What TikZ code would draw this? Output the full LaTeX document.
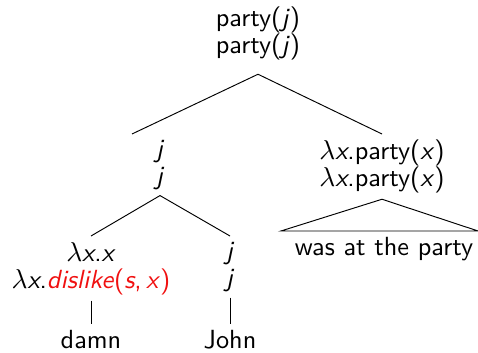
\documentclass[tikz,border=0pt]{standalone}
\usepackage{xcolor}
\usepackage{tikz}
\definecolor{semRed}{HTML}{F01010}
\newcommand{\mv}[1]{\textit{#1}}
\newcommand{\lx}{$\lambda$\mv{x}.}
\tikzset{
  sem/.style={font=\sffamily\fontsize{10.5}{10.8}\selectfont,align=center,
    inner sep=0pt,outer sep=2.4pt,anchor=north},
  word/.style={font=\sffamily\fontsize{10.5}{12}\selectfont,
    inner sep=0pt,outer sep=2.4pt,anchor=north},
  branch/.style={line width=0.38pt,draw=black}
}

\begin{document}
\begin{tikzpicture}[x=0.4pt,y=-0.4pt]
  \useasboundingbox (0,0) rectangle (478,352);

  % denotations, two lines per node
  \node[sem] (root) at (258,1) {party(\mv{j})\\party(\mv{j})};
  \node[sem] (subj) at (160,134) {\mv{j}\\\mv{j}};
  \node[sem] (pred) at (382,134) {\lx party(\mv{x})\\\lx party(\mv{x})};
  \node[sem] (expr) at (91,236) {\lx\mv{x}\\\lx\textcolor{semRed}{\mv{dislike}(\mv{s},\,\mv{x})}};
  \node[sem] (name) at (230,236) {\mv{j}\\\mv{j}};

  % leaves
  \node[word] (damn) at (91,324) {damn};
  \node[word] (john) at (230,324) {John};
  \node[word] (vp) at (384,231) {was at the party};

  % branches
  \draw[branch] ([yshift=-3.2pt]root.south) -- ([xshift=-11.2pt]subj.north);
  \draw[branch] ([yshift=-3.2pt]root.south) -- (pred.north);
  \draw[branch] (subj.south) -- (expr.north);
  \draw[branch] (subj.south) -- (name.north);
  \draw[branch] (expr.south) -- (damn.north);
  \draw[branch] (name.south) -- (john.north);
  \draw[branch] (pred.south) -- ([xshift=-3.2pt]vp.north west)
    -- ([xshift=-0.4pt]vp.north east) -- cycle;
\end{tikzpicture}
\end{document}
